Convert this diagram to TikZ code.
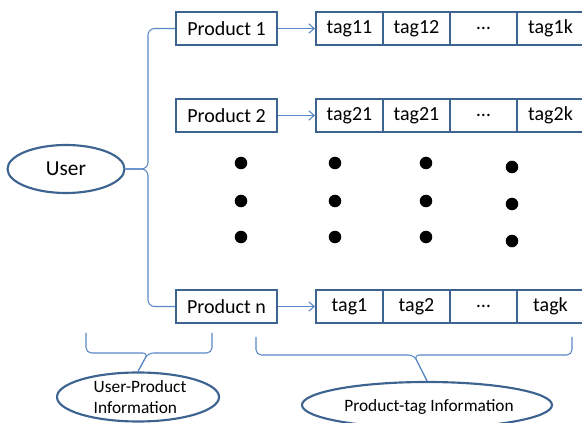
\documentclass[tikz,border=0pt]{standalone}
\usepackage{fontspec}
\setmainfont{Carlito}
\usetikzlibrary{shapes.geometric,arrows.meta}
\definecolor{boxblue}{HTML}{3D6491}
\definecolor{lineblue}{HTML}{5A88C4}
\newcommand\pxu{0.75pt}
\begin{document}
\begin{tikzpicture}[x=0.75pt,y=-0.75pt,
  box/.style={draw=boxblue,line width=1.6pt,fill=white,inner sep=0pt,
    minimum height={33*\pxu},font=\fontsize{15}{18}\selectfont},
  prod/.style={box,minimum width={101*\pxu}},
  cell/.style={box,minimum width={67*\pxu}},
  ell/.style={draw=boxblue,line width=1.6pt,ellipse,inner sep=0pt},
  conn/.style={draw=lineblue,line width=0.8pt},
  arr/.style={conn,-{Straight Barb[length=4pt,width=7pt]}},
  dot/.style={fill=black}]
\useasboundingbox (0,0) rectangle (582,423);

% user
\node[ell,minimum width={117*\pxu},minimum height={48*\pxu},font=\fontsize{16}{19}\selectfont] (u) at (66,169) {User};

% products
\node[prod] (p1) at (226.5,28.5) {Product 1};
\node[prod] (p2) at (226.5,115.5) {Product 2};
\node[prod] (pn) at (226.5,306.5) {Product n};

% tag rows
\node[cell] (t11) at (349.5,28.5) {tag11};
\node[cell] (t12) at (416.5,28.5) {tag12};
\node[cell] (t13) at (483.5,28.5) {\dots};
\node[cell] (t14) at (550.5,28.5) {tag1k};

\node[cell] (t21) at (349.5,115.5) {tag21};
\node[cell] (t22) at (416.5,115.5) {tag21};
\node[cell] (t23) at (483.5,115.5) {\dots};
\node[cell] (t24) at (550.5,115.5) {tag2k};

\node[cell] (tn1) at (349.5,306.5) {tag1};
\node[cell] (tn2) at (416.5,306.5) {tag2};
\node[cell] (tn3) at (483.5,306.5) {\dots};
\node[cell] (tn4) at (550.5,306.5) {tagk};

% arrows
\draw[arr] (p1.east) -- (t11.west);
\draw[arr] (p2.east) -- (t21.west);
\draw[arr] (pn.east) -- (tn1.west);

% user brace
\coordinate (bt) at (148,169);
\draw[conn,rounded corners=5pt] (p1.west) -| (bt) -- (u.east);
\draw[conn,rounded corners=5pt] (pn.west) -| (bt) -- (u.east);

% dots
\foreach \x in {241,335,426}{
  \foreach \y in {163,201,237}{
    \fill[dot] (\x,\y) circle[radius=4.7pt];
  }
}
\foreach \y in {167,204,241}{
  \fill[dot] (512,\y) circle[radius=4.7pt];
}

% bottom ellipses
\node[ell,minimum width={162*\pxu},minimum height={49*\pxu}] (upi) at (138,397) {};
\node[align=left,font=\fontsize{13}{15.8}\selectfont,inner sep=0pt] (upt) at (140,397) {User-Product\\Information};
\node[ell,minimum width={250*\pxu},minimum height={46*\pxu}] (pti) at (427,405) {};
\node[font=\fontsize{13}{15.8}\selectfont,inner sep=0pt] (ptt) at (429,407) {Product-tag Information};

% bottom braces
\coordinate (b1) at (148,353);
\draw[conn,rounded corners=4pt] (86,333) -- (86,353) -- (b1) -- (upi.north);
\draw[conn,rounded corners=4pt] (212,333) -- (212,353) -- (b1) -- (upi.north);
\coordinate (b2) at (414,355);
\draw[conn,rounded corners=4pt] (256,337) -- (256,355) -- (b2) -- (pti.north);
\draw[conn,rounded corners=4pt] (572,337) -- (572,355) -- (b2) -- (pti.north);
\end{tikzpicture}
\end{document}
